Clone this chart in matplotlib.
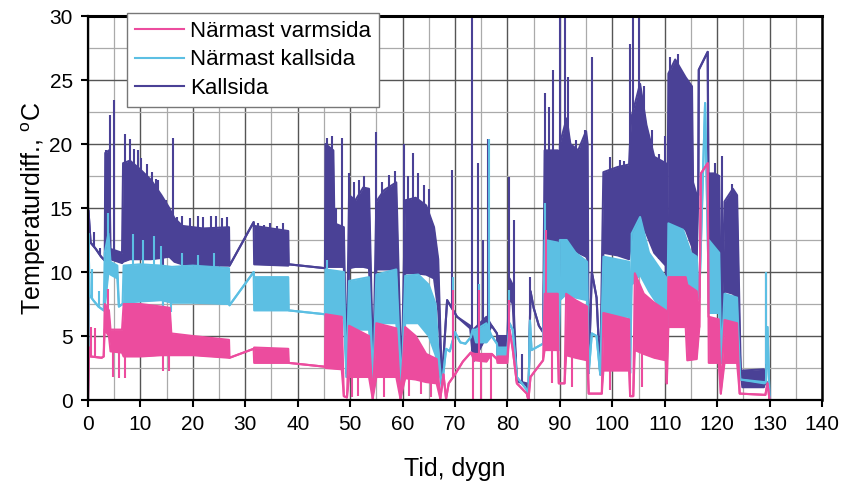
import numpy as np
import matplotlib.pyplot as plt
from matplotlib.ticker import MultipleLocator

plt.rcParams['font.family'] = ['Liberation Sans', 'DejaVu Sans']

# band rows: (dygn, lower edge, upper edge) of the daily swing
kall_band = [
    (0, 0, 0), (0.1, 14.8, 14.8), (0.5, 12.3, 12.3), (1.5, 11.8, 11.8), (2.5, 11.2, 11.2),
    (3.2, 10.9, 10.9), (3.3, 10.9, 19.3), (4.0, 11.0, 19.5), (4.3, 11.0, 11.8), (6.5, 10.7, 11.5),
    (6.7, 10.8, 18.5), (8.0, 11.0, 18.7), (10.0, 11.0, 18.0), (12.0, 11.0, 17.2), (14.0, 11.1, 16.0),
    (15.5, 11.2, 15.0), (16.5, 10.8, 14.2), (18.0, 10.6, 13.6), (22.0, 10.5, 13.4), (26.9, 10.5, 13.5),
    (27.0, 10.5, 10.5), (31.6, 13.9, 13.9), (31.7, 10.6, 13.6), (38.2, 10.5, 13.2), (38.3, 10.6, 10.6),
    (45.2, 10.3, 10.3), (45.3, 10.4, 20.0), (46.8, 10.4, 19.5), (47.0, 10.4, 13.8), (48.8, 10.4, 13.5),
    (49.3, 2.1, 2.1), (49.8, 10.3, 16.0),
    (51.0, 10.4, 15.6), (52.5, 10.4, 16.6), (53.6, 10.3, 16.5), (54.4, 2.3, 2.3), (55.0, 10.2, 15.5),
    (56.5, 10.2, 16.4), (58.8, 10.2, 17.0), (59.8, 1.3, 1.3), (60.5, 9.9, 15.6), (62.5, 9.9, 15.8),
    (64.5, 9.8, 15.2), (66.0, 9.5, 13.5), (66.8, 7.0, 11.0), (67.5, 1.3, 1.3), (68.5, 7.8, 7.8),
    (70.4, 6.5, 6.5), (72.9, 5.6, 5.8), (73.5, 3.0, 5.5), (76.0, 5.0, 6.5), (77.0, 5.8, 5.8),
    (78.0, 5.2, 5.2), (78.1, 3.5, 5.0), (80.0, 3.6, 5.0), (80.4, 8.0, 9.5), (81.0, 7.5, 9.0),
    (81.8, 1.5, 1.5), (83.7, 1.1, 1.3), (84.0, 0.0, 0.0), (84.4, 8.5, 8.5), (85.0, 7.2, 7.2),
    (86.0, 5.8, 5.8), (86.8, 5.3, 5.3), (87.1, 12.0, 19.5), (89.6, 12.0, 19.5), (89.8, 4.0, 4.0),
    (90.0, 12.0, 20.0), (91.3, 12.0, 22.0), (92.0, 12.0, 20.0), (93.5, 11.5, 19.5), (95.0, 11.2, 21.0),
    (95.3, 11.0, 20.0), (95.5, 2.1, 2.1), (96.1, 10.0, 10.0), (97.0, 8.0, 8.0), (97.7, 2.0, 2.0),
    (98.3, 11.5, 17.8), (101.0, 11.3, 18.2), (103.2, 11.0, 18.4), (103.6, 12.5, 22.0), (105.3, 14.0, 24.7),
    (106.5, 13.0, 21.5), (108.0, 11.5, 19.0), (110.2, 10.5, 18.5), (110.4, 5.2, 5.2), (110.7, 13.5, 25.5),
    (112.0, 13.6, 26.6), (114.0, 13.3, 25.2), (115.2, 12.0, 24.5), (115.4, 11.5, 17.0), (116.1, 11.0, 16.0),
    (116.4, 16.0, 16.0), (116.5, 25.8, 25.8), (118.2, 27.2, 27.2), (118.35, 10.7, 17.7), (119.5, 10.7, 17.7),
    (120.4, 10.5, 17.5), (120.8, 2.9, 2.9), (121.4, 8.5, 15.5), (123.0, 8.3, 16.5), (123.8, 8.0, 16.0),
    (124.5, 2.3, 2.3), (124.8, 1.0, 2.3), (128.9, 1.0, 2.4), (129.3, 1.5, 1.5), (129.9, 1.0, 1.0),
    (130.0, 0, 0),
]
kall_spikes = [
    (1.15, 13.1), (2.3, 11.9), (3.5, 19.5), (4.2, 22.3), (5.0, 23.4), (7.1, 20.8), (8.0, 20.4),
    (8.8, 19.6), (9.5, 19.5), (10.2, 18.9), (11.2, 18.4), (12.2, 17.8), (13.0, 17.3), (13.4, 17.2),
    (14.3, 6.8), (14.8, 15.6), (16.2, 20.5), (16.9, 14.3), (18.0, 14.4), (19.5, 14.2), (21.0, 14.4),
    (22.0, 14.3), (23.5, 14.4), (24.5, 14.4), (25.5, 14.2), (26.5, 14.3), (32.5, 13.8), (33.5, 13.7),
    (34.8, 13.8), (36.0, 13.6), (37.2, 13.8), (45.6, 20.5), (46.5, 20.6), (47.3, 15.0), (48.4, 20.5),
    (49.8, 17.7), (50.8, 17.0), (51.7, 17.2), (52.6, 17.5), (55.0, 20.9), (56.0, 17.0), (57.5, 17.6),
    (58.6, 17.9), (60.3, 20.0), (61.0, 17.5), (62.0, 19.3), (63.0, 17.7), (64.0, 16.8), (65.0, 16.5),
    (69.4, 18.0), (73.3, 30.0), (74.4, 18.5), (75.3, 12.5), (76.3, 20.4), (80.3, 17.4), (81.3, 14.1),
    (82.7, 3.6), (84.3, 9.6), (87.2, 24.0), (88.0, 22.9), (88.7, 25.8), (89.3, 19.5), (90.0, 30.0),
    (91.0, 30.0), (91.5, 25.2), (93.0, 20.3), (94.8, 21.1), (96.1, 26.8), (99.5, 19.0), (101.5, 18.75),
    (102.3, 18.7), (103.4, 27.8), (104.0, 30.0), (105.0, 30.0), (106.0, 24.5), (107.5, 21.1),
    (109.0, 19.2), (110.0, 20.6), (111.0, 26.8), (112.5, 27.0), (119.5, 18.5), (121.0, 19.1),
    (122.8, 16.9), (129.3, 9.9),
]

nk_band = [
    (0, 0, 0), (0.1, 13.0, 13.0), (0.3, 8.2, 8.2), (1.0, 7.8, 7.8), (2.0, 7.3, 7.3), (3.0, 7.0, 7.0),
    (3.2, 7.2, 11.5), (3.9, 10.0, 13.0), (4.3, 9.8, 10.8), (5.6, 9.5, 10.5), (5.9, 7.3, 7.3),
    (6.6, 7.5, 7.5), (6.8, 7.6, 10.5), (10.0, 7.7, 10.6), (14.0, 7.8, 10.5), (16.0, 7.6, 10.4),
    (20.0, 7.6, 10.5), (26.9, 7.5, 10.3), (27.0, 7.4, 7.4), (31.6, 10.0, 10.0), (31.7, 7.0, 9.6),
    (38.2, 7.0, 9.6), (38.3, 7.0, 7.0), (45.2, 6.7, 6.7), (45.3, 6.5, 10.2), (48.8, 6.4, 10.0),
    (49.3, 1.8, 1.8), (49.8, 5.5, 9.3), (53.6, 5.5, 9.6), (54.4, 1.5, 1.5), (55.0, 6.0, 9.8),
    (58.8, 6.0, 10.2), (59.8, 1.0, 1.0), (60.5, 6.0, 9.7), (63.0, 6.0, 9.8), (65.0, 5.0, 9.0),
    (66.3, 3.5, 7.5), (66.8, 2.6, 4.0), (67.5, 1.0, 1.0), (68.3, 4.0, 4.0), (69.0, 3.8, 3.8),
    (70.0, 5.3, 5.3), (71.0, 4.5, 4.5), (72.0, 4.4, 4.4), (73.0, 4.9, 4.9), (73.4, 5.5, 5.5),
    (74.0, 4.5, 5.5), (76.0, 4.5, 6.0), (77.0, 5.0, 5.0), (78.0, 4.4, 4.4), (78.1, 3.4, 4.1),
    (80.0, 3.4, 4.1), (80.4, 6.0, 6.0), (81.0, 5.5, 5.5), (81.8, 1.8, 1.8), (83.7, 0.8, 0.8),
    (84.0, 0, 0), (84.3, 6.2, 6.2), (84.6, 3.9, 3.9), (86.8, 4.4, 4.4), (87.1, 7.8, 12.5),
    (89.6, 7.8, 12.3), (89.8, 3.9, 3.9), (90.0, 7.8, 12.5), (91.3, 8.3, 12.5), (93.0, 8.0, 11.5),
    (95.2, 7.8, 10.8), (95.5, 2.1, 2.1), (96.1, 5.2, 5.2), (97.0, 5.0, 5.0), (97.7, 2.0, 2.0),
    (98.3, 6.5, 11.2), (103.2, 6.5, 10.8), (103.4, 2.1, 2.1), (103.7, 9.0, 13.0), (105.3, 9.8, 14.3),
    (107.0, 8.5, 11.5), (110.2, 6.5, 9.6), (110.4, 2.5, 2.5), (110.7, 9.6, 13.8), (113.5, 9.6, 13.3),
    (115.0, 8.5, 11.5), (116.1, 7.8, 11.2), (116.6, 8.0, 8.0), (117.7, 23.2, 23.2), (118.3, 10.7, 10.7),
    (118.4, 6.8, 12.5), (120.4, 6.8, 11.5), (120.8, 2.9, 2.9), (121.4, 6.0, 8.3), (123.8, 6.0, 8.0),
    (124.4, 1.6, 1.6), (129.0, 1.3, 1.4), (129.3, 1.4, 1.4), (129.6, 5.7, 5.7), (130.0, 0, 0),
]
nk_spikes = [
    (0.8, 10.2), (2.2, 8.5), (3.8, 14.6), (8.5, 13.0), (10.5, 12.5), (12.5, 12.8), (14.0, 12.0),
    (14.4, 6.8), (15.8, 6.9), (18.0, 11.5), (21.0, 11.3), (24.0, 11.5), (45.6, 10.9), (69.6, 9.6),
    (74.6, 9.1), (76.4, 20.4), (80.3, 8.6), (87.2, 15.4), (129.4, 10.0),
]

nv_band = [
    (0, 0, 0), (0.2, 4.1, 4.1), (0.5, 3.4, 3.4), (2.6, 3.3, 3.3), (3.0, 3.4, 3.4), (3.2, 5.5, 7.5),
    (4.0, 5.0, 7.0), (4.3, 3.8, 5.5), (6.5, 3.7, 5.5), (6.8, 3.4, 7.5), (10.0, 3.4, 7.5),
    (14.0, 3.5, 7.3), (15.6, 3.5, 7.2), (15.9, 3.5, 5.2), (20.0, 3.5, 5.0), (26.9, 3.3, 4.7),
    (27.0, 3.3, 3.3), (31.6, 4.0, 4.0), (31.7, 2.9, 4.1), (38.2, 2.9, 4.0), (38.3, 2.9, 2.9),
    (45.2, 2.6, 2.6), (45.3, 2.5, 6.7), (48.4, 2.4, 6.5), (48.8, 0.3, 0.3), (49.4, 0.2, 0.2),
    (49.8, 1.8, 5.8), (53.6, 1.8, 5.0), (54.3, 0.1, 0.1), (55.0, 1.8, 6.0), (58.8, 1.8, 5.6),
    (59.6, 0.1, 0.1), (60.5, 1.7, 5.7), (62.5, 1.6, 5.0), (64.5, 1.4, 3.6), (66.5, 1.3, 3.2),
    (67.2, 0.1, 0.1), (67.8, 2.0, 2.0), (68.3, 0.1, 0.1), (68.8, 1.3, 1.3), (70.0, 2.0, 2.0),
    (71.5, 3.0, 3.0), (73.0, 3.7, 3.7), (73.8, 3.1, 3.6), (76.0, 3.0, 3.6), (77.0, 3.6, 3.6),
    (78.0, 3.2, 3.2), (78.1, 2.9, 3.4), (80.0, 2.9, 3.4), (80.4, 5.5, 5.5), (81.0, 4.0, 4.0),
    (81.8, 1.3, 1.3), (83.7, 0.5, 0.5), (84.0, 0, 0), (84.4, 1.8, 1.8), (85.5, 2.4, 2.4),
    (86.8, 3.1, 3.1), (87.1, 3.9, 8.3), (89.6, 3.9, 8.3), (89.8, 1.3, 1.3), (90.9, 1.3, 1.3),
    (91.2, 3.5, 8.3), (93.0, 3.3, 7.8), (95.2, 3.1, 7.3), (95.5, 0.5, 0.5), (98.0, 0.5, 0.5),
    (98.3, 2.3, 6.8), (103.2, 2.3, 6.3), (103.4, 0.3, 0.3), (104.0, 0.3, 0.3), (104.3, 3.9, 9.9),
    (106.0, 3.6, 8.3), (108.0, 3.3, 7.6), (110.2, 3.1, 7.0), (110.4, 1.3, 1.3), (110.7, 5.7, 9.6),
    (114.0, 5.7, 9.6), (114.3, 3.1, 9.0), (116.1, 3.2, 8.5), (116.6, 5.7, 5.7), (116.9, 17.7, 17.7),
    (118.2, 18.5, 18.5), (118.35, 6.5, 6.5), (118.4, 2.9, 6.5), (120.3, 2.9, 6.3), (120.7, 0.5, 0.5),
    (121.4, 2.9, 6.25), (123.8, 2.9, 6.0), (124.3, 0.5, 0.5), (129.2, 0.4, 0.4), (129.6, 1.3, 1.3),
    (130.0, 0, 0),
]
nv_spikes = [
    (0.5, 5.7), (1.4, 5.6), (3.9, 8.7), (4.8, 1.8), (6.0, 1.7), (7.0, 1.7), (14.4, 2.3), (15.4, 2.3),
    (50.3, 0.2), (51.5, 0.3), (56.5, 0.2), (61.3, 0.3), (63.5, 0.5), (65.5, 0.2), (69.6, 8.6),
    (73.5, 0.0), (74.6, 8.6), (75.0, 0.0), (76.8, 0.0), (80.3, 7.8), (87.3, 13.3), (88.5, 1.3),
    (92.3, 1.0), (99.5, 0.8), (105.7, 1.0),
]

labels = ['Närmast varmsida', 'Närmast kallsida', 'Kallsida']
colors = ['#EC4C9E', '#5CBFE3', '#4A4196']

fig = plt.figure(figsize=(8.45, 4.82), dpi=100)
ax = fig.add_axes([0.1041, 0.1701, 0.8687, 0.7967])

handles = {}
# Kallsida at the bottom, varmsida on top
for band, spikes, lab, col in [(kall_band, kall_spikes, labels[2], colors[2]),
                               (nk_band, nk_spikes, labels[1], colors[1]),
                               (nv_band, nv_spikes, labels[0], colors[0])]:
    t, lo, hi = map(np.array, zip(*band))
    st, sv = map(np.array, zip(*spikes))
    ax.fill_between(t, lo, hi, color=col, lw=0, zorder=2)
    ln, = ax.plot(t, hi, color=col, lw=1.5, zorder=2)
    ax.plot(t, lo, color=col, lw=1.5, zorder=2)
    ax.vlines(st, np.interp(st, t, lo), sv, color=col, lw=1.5, zorder=2)
    handles[lab] = ln

ax.set_xlim(0, 140)
ax.set_ylim(0, 30)
ax.xaxis.set_major_locator(MultipleLocator(10))
ax.xaxis.set_minor_locator(MultipleLocator(5))
ax.yaxis.set_major_locator(MultipleLocator(5))
ax.yaxis.set_minor_locator(MultipleLocator(2.5))
ax.grid(which='major', color='#555555', lw=1.0, zorder=0)
ax.grid(which='minor', color='#aaaaaa', lw=0.9, zorder=0)
ax.set_axisbelow(True)
ax.tick_params(which='major', direction='out', length=5, width=1.5, labelsize=15, pad=6)
ax.tick_params(which='minor', length=0)
for s in ax.spines.values():
    s.set_linewidth(1.6)
    s.set_color('black')
ax.spines['top'].set_linewidth(2.2)
ax.spines['right'].set_linewidth(1.8)

ax.set_xlabel('Tid, dygn', fontsize=18, labelpad=16)
ax.set_ylabel(r'Temperaturdiff., $^{\mathregular{o}}$C', fontsize=18, labelpad=1)

leg = ax.legend([handles[l] for l in labels], labels, loc='upper left',
                bbox_to_anchor=(0.053, 1.008), borderaxespad=0, fontsize=16,
                handlelength=2.2, handletextpad=0.3, labelspacing=0.35,
                borderpad=0.35, frameon=True, fancybox=False, edgecolor='#777777', framealpha=1)
leg.get_frame().set_linewidth(1.0)
leg.set_zorder(5)

fig.savefig('out.png', dpi=100)
